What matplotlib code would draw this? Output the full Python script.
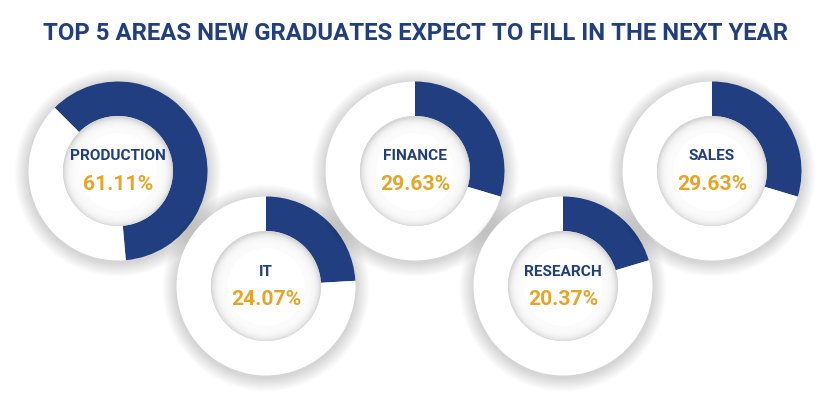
import matplotlib
matplotlib.use("Agg")
import matplotlib.pyplot as plt
from matplotlib.patches import Circle

areas = ["PRODUCTION", "IT", "FINANCE", "RESEARCH", "SALES"]
shares = [61.11, 24.07, 29.63, 20.37, 29.63]
start_angles = [135, 90, 90, 90, 90]

title = "TOP 5 AREAS NEW GRADUATES EXPECT TO FILL IN THE NEXT YEAR"

NAVY = "#213f80"
GOLD = "#e8a427"

# layout in pixels (y measured from the top of the picture)
centers = [(118, 171), (266, 286), (415, 171), (563, 286), (712, 171)]
R_OUT = 89.5
R_IN = 55

plt.rcParams["font.family"] = ["Roboto", "DejaVu Sans"]

fig = plt.figure(figsize=(8.3, 4), dpi=100)
ax = fig.add_axes([0, 0, 1, 1])
ax.set_xlim(0, 830)
ax.set_ylim(0, 400)
ax.set_aspect("equal")
ax.axis("off")

for i, (name, val) in enumerate(zip(areas, shares)):
	cx, cy = centers[i]
	cy = 400 - cy
	z = 10 * i

	# soft drop shadow round the ring
	for k in range(14):
		ax.add_patch(Circle((cx, cy - 2), R_OUT + 14 - k, color="black",
			alpha=0.011, lw=0, zorder=z))

	ax.pie([val, 100 - val], colors=[NAVY, "white"], startangle=start_angles[i],
		counterclock=False, center=(cx, cy), radius=R_OUT,
		wedgeprops=dict(width=R_OUT - R_IN, linewidth=0, zorder=z + 1))

	# inset shadow in the hole
	ax.add_patch(Circle((cx, cy), R_IN, color="#d6d6d6", lw=0, zorder=z + 2))
	for k in range(16):
		ax.add_patch(Circle((cx, cy - 1), R_IN - 1 - k * 0.9, color="white",
			alpha=0.22, lw=0, zorder=z + 3))
	ax.add_patch(Circle((cx, cy - 1), R_IN - 16, color="white", lw=0, zorder=z + 4))

	ax.text(cx, cy + 14.5, name, ha="center", va="center", color=NAVY,
		fontsize=11.1, fontweight="bold", zorder=z + 5)
	ax.text(cx, cy - 13.5, "%.2f%%" % val, ha="center", va="center", color=GOLD,
		fontsize=15.2, fontweight="bold", zorder=z + 5)

ax.set_xlim(0, 830)
ax.set_ylim(0, 400)

fig.text(0.5, 1 - 33.5 / 400, title, ha="center", va="center", color=NAVY,
	fontsize=17.2, fontweight="bold")

fig.savefig("out.png", dpi=100, facecolor="white")
